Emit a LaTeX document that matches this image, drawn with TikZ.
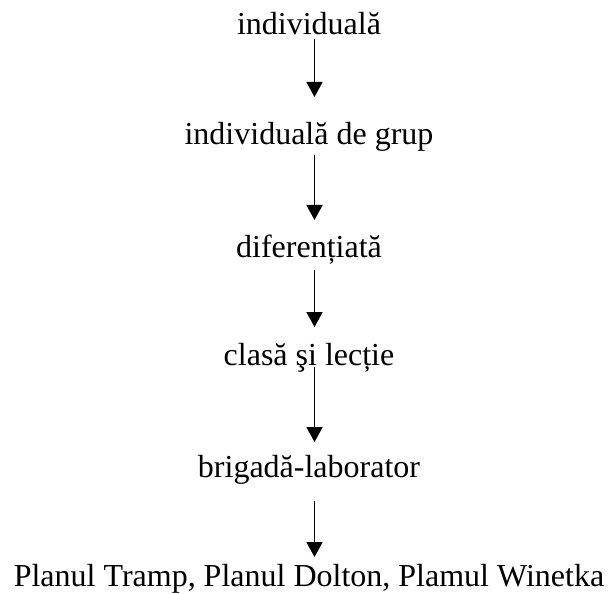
\documentclass[tikz,border=0pt]{standalone}
\usepackage{fontspec}
\setmainfont{Liberation Serif}
\usetikzlibrary{arrows.meta}
\begin{document}
\begin{tikzpicture}[x=1pt,y=-1pt,
  lbl/.style={anchor=base,inner sep=0pt,font=\fontsize{32}{36}\selectfont},
  arr/.style={line width=1.8pt,-{Triangle[length=15pt,width=16pt]}}]
\useasboundingbox (0,0) rectangle (609,593);
% form levels, top to bottom
\node[lbl] (n1) at (309,35)  {individuală};
\node[lbl] (n2) at (309,145) {individuală de grup};
\node[lbl] (n3) at (309,257) {diferențiată};
\node[lbl] (n4) at (309,365) {clasă şi lecție};
\node[lbl] (n5) at (309,477) {brigadă-laborator};
\node[lbl] (n6) at (309,586) {Planul Tramp, Planul Dolton, Plamul Winetka};
% arrow end points
\coordinate (a1) at (314.5,39);  \coordinate (b1) at (314.5,97);
\coordinate (a2) at (314.5,155); \coordinate (b2) at (314.5,220);
\coordinate (a3) at (314.5,270); \coordinate (b3) at (314.5,327);
\coordinate (a4) at (314.5,367); \coordinate (b4) at (314.5,442);
\coordinate (a5) at (314.5,501); \coordinate (b5) at (314.5,557);
\draw[arr] (a1) -- (b1);
\draw[arr] (a2) -- (b2);
\draw[arr] (a3) -- (b3);
\draw[arr] (a4) -- (b4);
\draw[arr] (a5) -- (b5);
\end{tikzpicture}
\end{document}
